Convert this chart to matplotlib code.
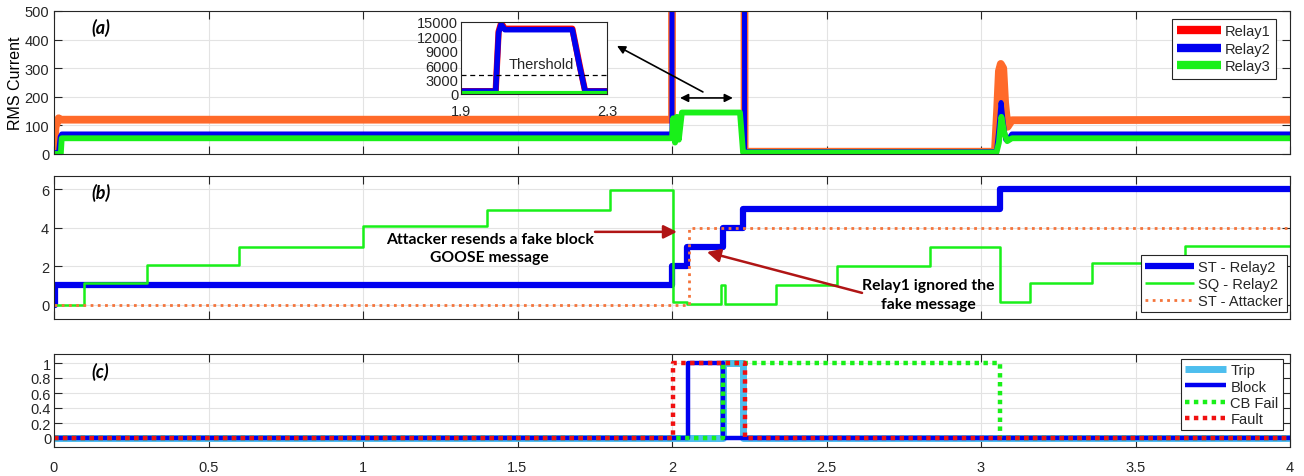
import matplotlib.pyplot as plt
from matplotlib.lines import Line2D

plt.rcParams['font.family'] = ['Liberation Sans', 'DejaVu Sans']
plt.rcParams['font.size'] = 10.5

# (a) RMS currents, breakpoints (time in s, current)
t_relay1 = [0, 0.005, 0.015, 0.02, 2.0, 2.001, 2.225, 2.235, 3.045, 3.052, 3.058, 3.064, 3.072, 3.078, 3.086, 3.1, 4.0]
i_relay1 = [10, 95, 125, 120, 120, 14000, 14000, 8, 8, 150, 290, 315, 300, 180, 95, 118, 120]
t_relay2 = [0, 0.015, 0.02, 0.025, 2.0, 2.001, 2.225, 2.235, 3.05, 3.058, 3.065, 3.072, 3.08, 3.09, 3.1, 4.0]
i_relay2 = [5, 5, 60, 70, 70, 14000, 14000, 8, 8, 90, 180, 110, 50, 55, 70, 70]
t_relay3 = [0, 0.022, 0.025, 2.0, 2.004, 2.01, 2.016, 2.022, 2.032, 2.22, 2.23, 3.05, 3.058, 3.066, 3.075, 3.085, 3.1, 4.0]
i_relay3 = [0, 0, 55, 55, 125, 40, 130, 50, 145, 145, 5, 5, 40, 130, 75, 45, 55, 55]

# zoomed window of the fault current
t_zoom = [1.9, 1.995, 2.003, 2.01, 2.02, 2.205, 2.225, 2.24, 2.3]
i_zoom1 = [600, 600, 13000, 14800, 13600, 13600, 6000, 600, 600]
i_zoom2 = [600, 600, 12800, 14500, 13400, 13400, 5800, 600, 600]
t_zoom3 = [1.9, 2.3]
i_zoom3 = [250, 250]
threshold = 4000

# (b) GOOSE state / sequence numbers
t_st = [0, 0.002, 2.0, 2.05, 2.165, 2.23, 3.06, 4.0]
st_relay2 = [0, 1, 2, 3, 4, 5, 6, 6]
t_sq = [0, 0.097, 0.30, 0.60, 1.0, 1.40, 1.80, 2.003, 2.05, 2.157, 2.17, 2.337, 2.535, 2.835, 3.06, 3.16, 3.36, 3.66, 4.0]
sq_relay2 = [0, 1.15, 2.05, 3.0, 4.1, 4.95, 5.95, 0.15, 0.02, 1.0, 0.02, 1.02, 2.0, 3.0, 0.15, 1.12, 2.15, 3.05, 3.05]
t_att = [0, 2.055, 4.0]
st_attacker = [0, 4, 4]

# (c) protection signals
t_trip = [0, 2.166, 2.229, 4.0]
trip = [0, 1, 0, 0]
t_block = [0, 2.052, 2.166, 4.0]
block = [0, 1, 0, 0]
t_cbfail = [0, 2.166, 3.06, 4.0]
cb_fail = [0, 1, 0, 0]
t_fault = [0, 2.002, 2.236, 4.0]
fault = [0, 1, 0, 0]

x_ticks = [0, 0.5, 1, 1.5, 2, 2.5, 3, 3.5, 4]
x_ticklabels = ['0', '0.5', '1', '1.5', '2', '2.5', '3', '3.5', '4']

dark = '#262626'
orange = '#FF6A2A'
green = '#19F019'
blue = '#0000F0'
dot = (0, (1, 1))
fs = 10.5
note_font = ['Lato', 'DejaVu Sans']


def matlab_axes(ax):
    ax.set_facecolor('white')
    for s in ax.spines.values():
        s.set_color(dark)
        s.set_linewidth(0.8)
    ax.tick_params(direction='in', top=True, right=True, length=6, width=0.8,
                   colors=dark, labelsize=fs)
    ax.grid(True, color='#E3E3E3', linewidth=0.8)
    ax.set_axisbelow(True)
    ax.set_xlim(0, 4)
    ax.set_xticks(x_ticks)


def box_legend(leg):
    leg.get_frame().set_linewidth(0.8)
    for txt in leg.get_texts():
        txt.set_color(dark)
    for ln in leg.get_lines():
        ln.set_solid_capstyle('butt')


fig = plt.figure(figsize=(13.04, 4.77), dpi=100)
W, H = 1304, 477
L, R = 54, 1290


def rect(top, bottom):
    return [L / W, 1 - bottom / H, (R - L) / W, (bottom - top) / H]


ax_a = fig.add_axes(rect(12, 155))
ax_b = fig.add_axes(rect(177, 320))
ax_c = fig.add_axes(rect(355, 448))

# ---- (a)
matlab_axes(ax_a)
ax_a.plot(t_relay1, i_relay1, color=orange, lw=5.6, solid_joinstyle='round')
ax_a.plot(t_relay2, i_relay2, color=blue, lw=3.6, solid_joinstyle='round')
ax_a.plot(t_relay3, i_relay3, color=green, lw=4.2, solid_joinstyle='round')
ax_a.set_ylim(0, 500)
ax_a.set_yticks([0, 100, 200, 300, 400, 500])
ax_a.set_xticklabels([])
ax_a.set_ylabel('RMS Current', fontsize=11.5, labelpad=1)
ax_a.text(0.12, 445, '(a)', fontsize=13, fontweight='bold', style='italic',
          family=note_font, va='center')
leg_a = ax_a.legend([Line2D([], [], color='#FF0000', lw=6),
                     Line2D([], [], color=blue, lw=6),
                     Line2D([], [], color=green, lw=6)],
                    ['Relay1', 'Relay2', 'Relay3'],
                    loc='upper right', bbox_to_anchor=(0.9887, 0.944), borderaxespad=0,
                    fancybox=False, framealpha=1, edgecolor=dark, handlelength=3.0,
                    labelspacing=0.25, borderpad=0.35, handletextpad=0.3, fontsize=fs)
box_legend(leg_a)

ax_a.annotate('', xy=(2.197, 196), xytext=(2.026, 196),
              arrowprops=dict(arrowstyle='<|-|>', color='black', lw=1.2, mutation_scale=12,
                              shrinkA=0, shrinkB=0))
ax_a.annotate('', xy=(1.822, 378), xytext=(2.10, 217), annotation_clip=False,
              arrowprops=dict(arrowstyle='-|>', color='black', lw=1.2, mutation_scale=12,
                              shrinkA=0, shrinkB=0))

ins = fig.add_axes([461 / W, 1 - 95 / H, 146 / W, 72 / H])
ins.set_facecolor('white')
for s in ins.spines.values():
    s.set_color(dark)
    s.set_linewidth(0.8)
ins.plot(t_zoom, i_zoom1, color='#FF0000', lw=4.5)
ins.plot(t_zoom, i_zoom2, color=blue, lw=4.0)
ins.plot(t_zoom3, i_zoom3, color=green, lw=3.0)
ins.axhline(threshold, color='black', lw=0.9, ls=(0, (4, 3)))
ins.text(2.12, 6300, 'Thershold', ha='center', va='center', fontsize=fs, color=dark)
ins.set_xlim(1.9, 2.3)
ins.set_ylim(0, 15000)
ins.set_yticks([0, 3000, 6000, 9000, 12000, 15000])
ins.set_xticks([1.9, 2.3])
ins.set_xticklabels(['1.9', '2.3'])
ins.tick_params(direction='in', length=0, colors=dark, labelsize=fs, pad=2)
ins.tick_params(axis='x', pad=7)

# ---- (b)
matlab_axes(ax_b)
ax_b.step(t_st, st_relay2, where='post', color=blue, lw=4.5, label='ST - Relay2')
ax_b.step(t_sq, sq_relay2, where='post', color=green, lw=1.8, label='SQ - Relay2')
ax_b.step(t_att, st_attacker, where='post', color='#F4743B', lw=2.0, ls=(0, (1, 1.6)),
          label='ST - Attacker')
ax_b.set_ylim(-0.75, 6.7)
ax_b.set_yticks([0, 2, 4, 6])
ax_b.set_xticklabels([])
ax_b.text(0.12, 5.85, '(b)', fontsize=13, fontweight='bold', style='italic',
          family=note_font, va='center')
ax_b.text(1.41, 2.95, 'Attacker resends a fake block\nGOOSE message', ha='center', va='center',
          fontsize=11.3, fontweight='bold', family=note_font, linespacing=1.4)
ax_b.text(2.83, 0.53, 'Relay1 ignored the\nfake message', ha='center', va='center',
          fontsize=11.3, fontweight='bold', family=note_font, linespacing=1.4)
ax_b.annotate('', xy=(2.016, 3.79), xytext=(1.751, 3.79),
              arrowprops=dict(arrowstyle='-|>', color='#B01515', lw=1.8, mutation_scale=20,
                              shrinkA=0, shrinkB=0))
ax_b.annotate('', xy=(2.113, 2.74), xytext=(2.615, 0.61),
              arrowprops=dict(arrowstyle='-|>', color='#B01515', lw=1.8, mutation_scale=20,
                              shrinkA=0, shrinkB=0))
leg_b = ax_b.legend(loc='lower right', bbox_to_anchor=(0.9976, 0.049), borderaxespad=0,
                    fancybox=False, framealpha=1, edgecolor=dark, handlelength=3.3,
                    labelspacing=0.2, borderpad=0.3, handletextpad=0.3, fontsize=fs)
box_legend(leg_b)

# ---- (c)
matlab_axes(ax_c)
ax_c.step(t_trip, trip, where='post', color='#4DBEEE', lw=5.0, label='Trip')
ax_c.step(t_block, block, where='post', color=blue, lw=3.2, label='Block')
ax_c.step(t_cbfail, cb_fail, where='post', color=green, lw=3.2, ls=dot,
          dash_capstyle='butt', label='CB Fail')
ax_c.step(t_fault, fault, where='post', color='#F01010', lw=3.2, ls=dot,
          dash_capstyle='butt', label='Fault')
ax_c.set_ylim(-0.12, 1.12)
ax_c.set_yticks([0, 0.2, 0.4, 0.6, 0.8, 1])
ax_c.set_yticklabels(['0', '0.2', '0.4', '0.6', '0.8', '1'])
ax_c.set_xticklabels(x_ticklabels)
ax_c.tick_params(axis='x', pad=9)
ax_c.tick_params(axis='y', pad=2)
ax_c.text(0.12, 0.9, '(c)', fontsize=13, fontweight='bold', style='italic',
          family=note_font, va='center')
leg_c = ax_c.legend(loc='upper right', bbox_to_anchor=(0.9943, 0.946), borderaxespad=0,
                    fancybox=False, framealpha=1, edgecolor=dark, handlelength=2.8,
                    labelspacing=0.15, borderpad=0.3, handletextpad=0.3, fontsize=fs)
box_legend(leg_c)

fig.savefig('out.png', dpi=100)
